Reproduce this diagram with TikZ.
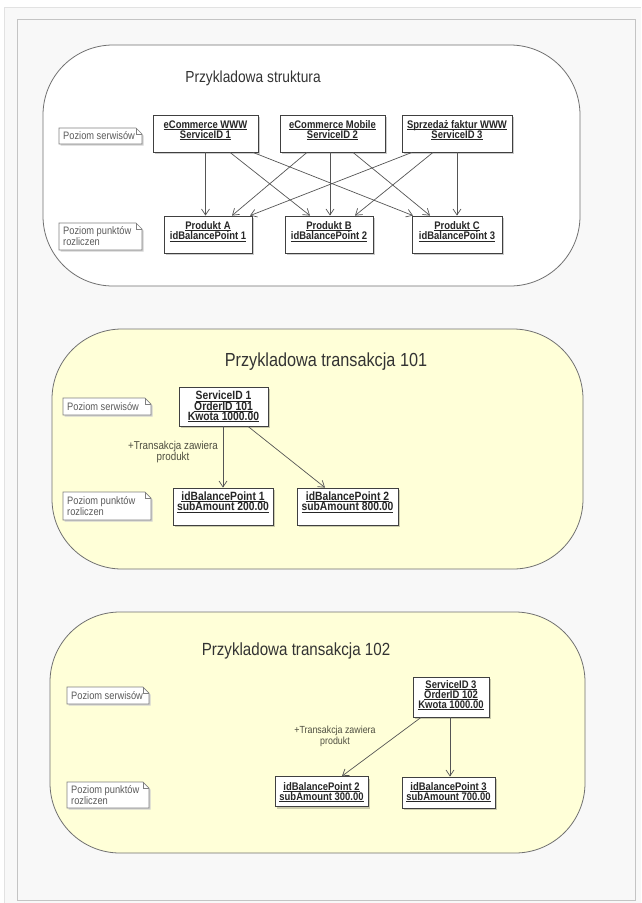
\documentclass[tikz,border=0pt]{standalone}
\usepackage{fontspec}
\setmainfont{Liberation Sans}[FakeStretch=0.86]
\usetikzlibrary{arrows.meta,shadows}
\definecolor{bgc}{HTML}{F8F8F8}
\definecolor{outerln}{HTML}{E2E2E2}
\definecolor{innerln}{HTML}{C4C4C4}
\definecolor{yel}{HTML}{FFFFD8}
\definecolor{rln}{HTML}{707070}
\definecolor{bln}{HTML}{404040}
\definecolor{arr}{HTML}{555555}
\definecolor{notetxt}{HTML}{5A5A5A}
\definecolor{notedge}{HTML}{808080}
\definecolor{lbltxt}{HTML}{4E4E40}
\definecolor{ttl}{HTML}{333333}
\newcommand\ulx[1]{\setbox0=\hbox{#1}\leavevmode\rlap{\rule[-1.3pt]{\wd0}{0.5pt}}\box0}
\newcommand\mknote[6]{%
  \fill[black!18] (#2+1.5,#3+1.5) -- (#4-4.5,#3+1.5) -- (#4+1.5,#3+7.5) -- (#4+1.5,#5+1.5) -- (#2+1.5,#5+1.5) -- cycle;
  \draw[draw=notedge, fill=white, line width=0.7pt] (#2,#3) -- (#4-6,#3) -- (#4,#3+6) -- (#4,#5) -- (#2,#5) -- cycle;
  \draw[notedge, line width=0.7pt] (#4-6,#3) -- (#4-6,#3+6) -- (#4,#3+6);
  \node[notet] (#1) at (#2+4,{(#3+#5)/2}) {#6};}
\begin{document}
\begin{tikzpicture}[x=1pt,y=-1pt,
  region/.style={draw=rln, line width=0.8pt, rounded corners=70pt},
  obj/.style={draw=bln, line width=0.8pt, fill=white, inner sep=0pt,
    drop shadow={shadow xshift=2pt, shadow yshift=-2pt, fill=black, opacity=0.2}},
  objtxt/.style={font=\bfseries\fontsize{11}{10.3}\selectfont, align=center, inner sep=0pt, text=black!85},
  objtxtb/.style={font=\bfseries\fontsize{12}{10.3}\selectfont, align=center, inner sep=0pt, text=black!85},
  notet/.style={font=\fontsize{10.8}{10}\selectfont, align=left, anchor=west, inner sep=0pt, text=notetxt},
  lbl/.style={align=center, text=lbltxt, inner sep=0pt},
  conn/.style={draw=arr, line width=0.7pt, -{Straight Barb[length=6pt,width=8pt]}},
  ttlstyle/.style={text=ttl, inner sep=0pt, anchor=base}]
\useasboundingbox (0,0) rectangle (641,903);
\fill[white] (0,0) rectangle (641,903);
\fill[bgc] (4.5,7.5) rectangle (641,903);
\draw[outerln, line width=1pt] (4.5,903) -- (4.5,7.5) -- (641,7.5);
\draw[innerln, line width=1pt] (17,19) rectangle (635,900);

% regions
\draw[region, fill=white] (43,45) rectangle (580,286);
\draw[region, fill=yel] (52,329) rectangle (583,569);
\draw[region, fill=yel] (50,612) rectangle (585,853);

\node[ttlstyle, font=\fontsize{16}{18}\selectfont] (t1) at (253,82) {Przykladowa struktura};
\node[ttlstyle, font=\fontsize{18.9}{22}\selectfont] (t2) at (326,366) {Przykladowa transakcja 101};
\node[ttlstyle, font=\fontsize{17.6}{21}\selectfont] (t3) at (296,655) {Przykladowa transakcja 102};

% notes
\mknote{n1}{59}{128}{142}{144}{Poziom serwisów}
\mknote{n2}{59}{223}{142}{250}{Poziom punktów\\rozliczen}
\mknote{n3}{63}{398}{151}{415}{Poziom serwisów}
\mknote{n4}{63}{492}{151}{520}{Poziom punktów\\rozliczen}
\mknote{n5}{67}{687}{149}{704}{Poziom serwisów}
\mknote{n6}{67}{782}{149}{808}{Poziom punktów\\rozliczen}

% structure boxes
\node[obj, minimum width=105pt, minimum height=37pt] (s1) at (205.5,133.5) {};
\node[obj, minimum width=105pt, minimum height=37pt] (s2) at (332.5,133.5) {};
\node[obj, minimum width=110pt, minimum height=37pt] (s3) at (457,133.5) {};
\node[obj, minimum width=88pt, minimum height=37pt] (pa) at (208,234.5) {};
\node[obj, minimum width=88pt, minimum height=37pt] (pb) at (329,234.5) {};
\node[obj, minimum width=90pt, minimum height=37pt] (pc) at (457,234.5) {};
\node[objtxt] (s1t) at (205.5,130) {\ulx{eCommerce WWW}\\\ulx{ServiceID 1}};
\node[objtxt] (s2t) at (332.5,130) {\ulx{eCommerce Mobile}\\\ulx{ServiceID 2}};
\node[objtxt] (s3t) at (457,130) {\ulx{Sprzedaż faktur WWW}\\\ulx{ServiceID 3}};
\node[objtxt] (pat) at (208,231.5) {\ulx{Produkt A}\\\ulx{idBalancePoint 1}};
\node[objtxt] (pbt) at (329,231.5) {\ulx{Produkt B}\\\ulx{idBalancePoint 2}};
\node[objtxt] (pct) at (457,231.5) {\ulx{Produkt C}\\\ulx{idBalancePoint 3}};

\draw[conn] (s1.south) -- (s1.south |- pa.north);
\draw[conn] ([xshift=24.5pt]s1.south) -- ([xshift=-19pt]pb.north);
\draw[conn] ([xshift=47.5pt]s1.south) -- ([xshift=-44pt]pc.north);
\draw[conn] ([xshift=-25.5pt]s2.south) -- ([xshift=24pt]pa.north);
\draw[conn] ([xshift=-2.5pt]s2.south) -- ([xshift=-2.5pt]s2.south |- pb.north);
\draw[conn] ([xshift=20.5pt]s2.south) -- ([xshift=-27pt]pc.north);
\draw[conn] ([xshift=-45pt]s3.south) -- ([xshift=42pt]pa.north);
\draw[conn] ([xshift=-24pt]s3.south) -- ([xshift=26pt]pb.north);
\draw[conn] (s3.south) -- (s3.south |- pc.north);

% transaction 101
\node[obj, minimum width=89pt, minimum height=39pt] (sa) at (223.5,406.5) {};
\node[obj, minimum width=100pt, minimum height=37pt] (bp1) at (223,506.5) {};
\node[obj, minimum width=101pt, minimum height=37pt] (bp2) at (347.5,506.5) {};
\node[objtxtb] (sat) at (223.5,406.5) {\ulx{ServiceID 1}\\\ulx{OrderID 101}\\\ulx{Kwota 1000.00}};
\node[objtxtb] (bp1t) at (223,502) {\ulx{idBalancePoint 1}\\\ulx{subAmount 200.00}};
\node[objtxtb] (bp2t) at (347.5,502) {\ulx{idBalancePoint 2}\\\ulx{subAmount 800.00}};
\draw[conn] ([xshift=-0.5pt]sa.south) -- ([xshift=-0.5pt]sa.south |- bp1.north);
\draw[conn] ([xshift=24.5pt]sa.south) -- ([xshift=-22.5pt]bp2.north);
\node[lbl, font=\fontsize{11.4}{11}\selectfont] (l1) at (173,452.5) {+Transakcja zawiera\\produkt};

% transaction 102
\node[obj, minimum width=76pt, minimum height=40pt] (sb) at (451,697) {};
\node[obj, minimum width=93pt, minimum height=30pt] (bq2) at (321.5,791.5) {};
\node[obj, minimum width=93pt, minimum height=31pt] (bq3) at (448.5,792.5) {};
\node[objtxt] (sbt) at (451,695) {\ulx{ServiceID 3}\\\ulx{OrderID 102}\\\ulx{Kwota 1000.00}};
\node[objtxt] (bq2t) at (321.5,792) {\ulx{idBalancePoint 2}\\\ulx{subAmount 300.00}};
\node[objtxt] (bq3t) at (448.5,792) {\ulx{idBalancePoint 3}\\\ulx{subAmount 700.00}};
\draw[conn] ([xshift=-30pt]sb.south) -- ([xshift=20.5pt]bq2.north);
\draw[conn] ([xshift=-1pt]sb.south) -- ([xshift=-1pt]sb.south |- bq3.north);
\node[lbl, font=\fontsize{10.3}{11}\selectfont] (l2) at (335,736) {+Transakcja zawiera\\produkt};
\end{tikzpicture}
\end{document}
